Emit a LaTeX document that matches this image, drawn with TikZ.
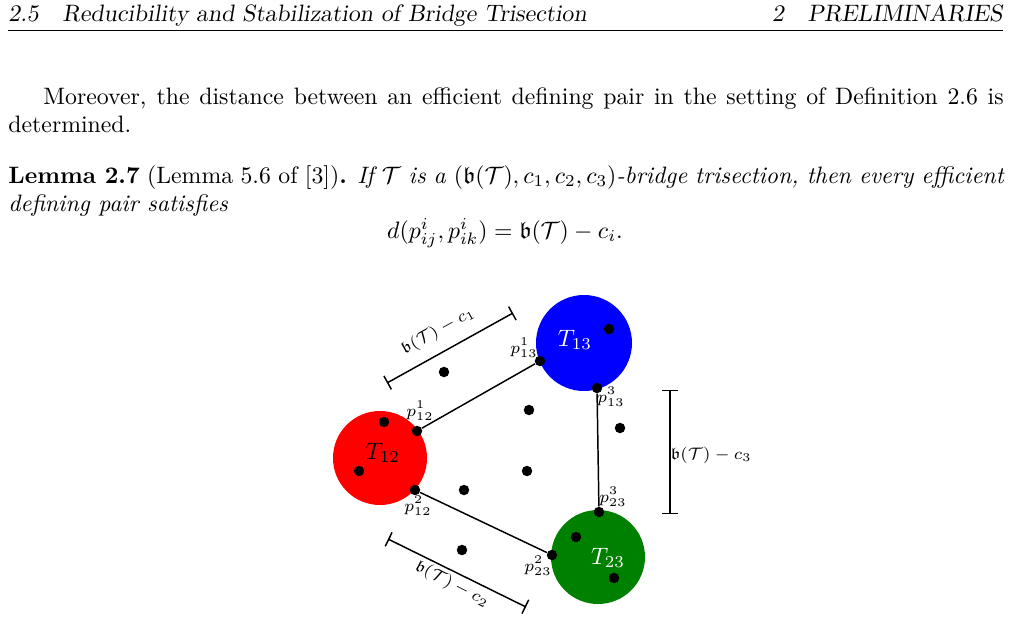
\documentclass[tikz,border=0pt]{standalone}
\usepackage{amsmath,amssymb}
\usepackage{tikz}
\usetikzlibrary{positioning,
                arrows.meta}                % arrow tips

\begin{document}
\begin{tikzpicture}[x=0.421pt,y=-0.421pt,
        dot/.style={circle, fill=black, inner sep=0pt, minimum size=4.4pt},
        piece/.style={line width=0.62pt},
        gap/.style={line width=0.62pt, {Bar[width=6.5pt]}-{Bar[width=6.5pt]}},
        plab/.style={font=\scriptsize, inner sep=1pt}]
    \useasboundingbox (0,0) rectangle (1011,621);

    % running head
    \node[anchor=base west, inner sep=0pt] (head) at (8,21) {\slshape 2.5\quad Reducibility and Stabilization of Bridge Trisection};
    \node[anchor=base east, inner sep=0pt] (sec) at (1003,21) {\slshape 2\quad PRELIMINARIES};
    \draw[line width=0.4pt] (8,30) -- (1003,30);

    % text
    \node[anchor=north west, inner sep=0pt, text width=419pt, align=justify] (para) at (8,87)
        {\baselineskip=11.4pt\hspace*{14.7pt}Moreover, the distance between an efficient defining pair in the setting of Definition 2.6 is\linebreak determined.};
    \node[anchor=north west, inner sep=0pt, text width=419pt, align=justify] (lemma) at (8,165)
        {\baselineskip=11.4pt\textbf{Lemma 2.7} (Lemma 5.6 of [3])\textbf{.} \emph{If $\mathcal{T}$ is a $(\mathfrak{b}(\mathcal{T}),c_1,c_2,c_3)$-bridge trisection, then every efficient\linebreak defining pair satisfies}};
    \node[anchor=base, inner sep=0pt] (eq) at (505,238) {$d(p^i_{ij},p^i_{ik}) = \mathfrak{b}(\mathcal{T}) - c_i.$};

    % the three pieces
    \fill[red] (380,458) circle (47);
    \fill[blue] (584,343) circle (48);
    \fill[green!50!black] (598,557) circle (47);
    \node (T12) at (383,453) {$T_{12}$};
    \node[white] (T13) at (575,340) {$T_{13}$};
    \node[white] (T23) at (608,558) {$T_{23}$};

    % punctures
    \foreach \px/\py in {384/422, 359/471, 609/329, 576/537, 614/578,
                         444/372, 529/410, 620/428, 527/471, 464/490, 462/550}
        \node[dot] at (\px,\py) {};

    % defining pair endpoints
    \node[dot] (a1) at (417,431) {};
    \node[dot] (b1) at (540,361) {};
    \node[dot] (b3) at (597,388) {};
    \node[dot] (c3) at (599,512) {};
    \node[dot] (a2) at (415,490) {};
    \node[dot] (c2) at (552,555) {};
    \draw[piece] (a1) -- (b1);
    \draw[piece] (b3) -- (c3);
    \draw[piece] (a2) -- (c2);

    \node[plab] (la1) at (420,411) {$p^1_{12}$};
    \node[plab] (lb1) at (524,348) {$p^1_{13}$};
    \node[plab] (lb3) at (611,397) {$p^3_{13}$};
    \node[plab] (lc3) at (613,497) {$p^3_{23}$};
    \node[plab] (la2) at (418,506) {$p^2_{12}$};
    \node[plab] (lc2) at (538,566) {$p^2_{23}$};

    % distances
    \coordinate (g1s) at (387,383);
    \coordinate (g1e) at (513,313);
    \coordinate (g3s) at (670,390);
    \coordinate (g3e) at (670,514);
    \coordinate (g2s) at (388,539);
    \coordinate (g2e) at (526,607);
    \draw[gap] (g1s) -- (g1e);
    \draw[gap] (g3s) -- (g3e);
    \draw[gap] (g2s) -- (g2e);
    \node[font=\scriptsize, rotate=29] (d1) at (438,331) {$\mathfrak{b}(\mathcal{T})-c_1$};
    \node[font=\scriptsize] (d3) at (711,455) {$\mathfrak{b}(\mathcal{T})-c_3$};
    \node[font=\scriptsize, rotate=-27] (d2) at (452,584) {$\mathfrak{b}(\mathcal{T})-c_2$};
\end{tikzpicture}
\end{document}
